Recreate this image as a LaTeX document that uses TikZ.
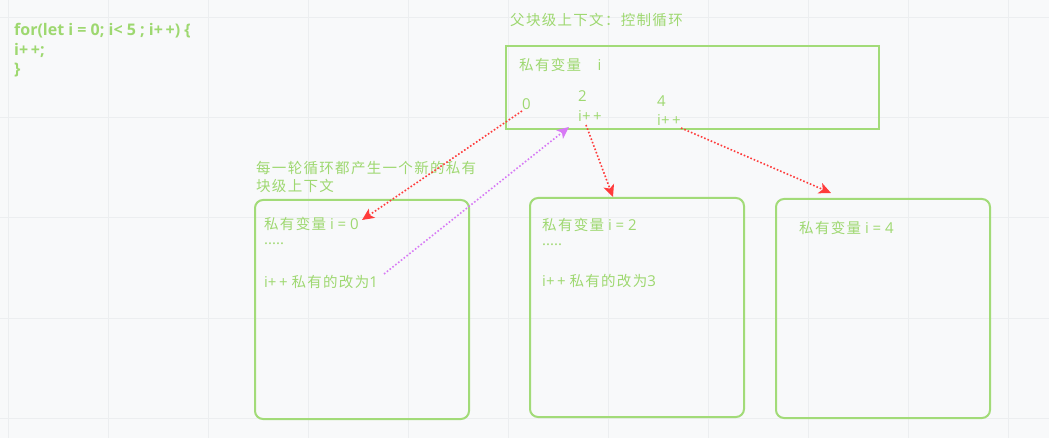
\documentclass[tikz,border=0pt]{standalone}
\usepackage{fontspec}
\setmainfont{Open Sans}
\newfontfamily\cjk[LetterSpace=9,Scale=0.967]{Noto Sans CJK SC}
\usetikzlibrary{arrows.meta}
\definecolor{bg}{HTML}{F8F9FA}
\definecolor{gridc}{HTML}{ECEEF0}
\definecolor{gtxt}{HTML}{9ED870}
\definecolor{gbox}{HTML}{A2DB78}
\definecolor{redc}{HTML}{FF3B3B}
\definecolor{purc}{HTML}{D77AF5}
\tikzset{
  txt/.style={anchor=west, inner sep=0pt, text=gtxt, font=\fontsize{15}{17}\selectfont},
  codetxt/.style={anchor=west, inner sep=0pt, text=gtxt, font=\fontsize{16}{18}\selectfont\bfseries},
  ctxbox/.style={draw=gbox, line width=2pt},
  roundbox/.style={draw=gbox, line width=2pt, rounded corners=8pt},
  redarr/.style={draw=redc, line width=1.6pt, dash pattern=on 1.6pt off 2pt, -{Stealth[length=12pt,width=11pt,inset=3pt]}},
  purarr/.style={draw=purc, line width=1.6pt, dash pattern=on 1.6pt off 2pt, -{Stealth[length=12pt,width=11pt,inset=3pt]}},
}
\begin{document}
\begin{tikzpicture}[x=1pt,y=-1pt]
\fill[bg] (0,0) rectangle (1049,438);
\useasboundingbox (0,0) rectangle (1049,438);
\foreach \gx in {8,108,...,1008} \draw[gridc, line width=1pt] (\gx,0) -- (\gx,438);
\foreach \gy in {18,118,...,418} \draw[gridc, line width=1pt] (0,\gy) -- (1049,\gy);

% code
\node[codetxt] (c1) at (14,31) {for(let i = 0; i< 5 ; i+\,+) \{};
\node[codetxt] (c2) at (14,50) {i+\,+;};
\node[codetxt] (c3) at (14,70) {\}};

% parent context
\node[txt] (ptitle) at (510,20) {\cjk 父块级上下文：控制循环};
\node[ctxbox, minimum width=373pt, minimum height=83pt, anchor=north west, inner sep=0pt] (parent) at (505,45) {};
\node[txt] (pvar) at (519,65) {{\cjk 私有变量}\hspace{1.1em}i};
\node[txt] (zero) at (522,104) {0};
\node[txt] (two) at (578,96) {2};
\node[txt] (ipa) at (578,116) {i+\,+};
\node[txt] (four) at (657,101) {4};
\node[txt] (ipb) at (657,120) {i+\,+};

% label
\node[txt] (lab1) at (256,168) {\cjk 每一轮循环都产生一个新的私有};
\node[txt] (lab2) at (256,186) {\cjk 块级上下文};

% boxes
\node[roundbox, minimum width=214pt, minimum height=219pt, anchor=north west, inner sep=0pt] (b1) at (254,199) {};
\node[roundbox, minimum width=214pt, minimum height=219pt, anchor=north west, inner sep=0pt] (b2) at (529,197) {};
\node[roundbox, minimum width=214pt, minimum height=219pt, anchor=north west, inner sep=0pt] (b3) at (775,198) {};

\node[txt] (b1a) at (264,224) {{\cjk 私有变量} i = 0};
\node[txt] (b1b) at (264,244) {.....};
\node[txt] (b1c) at (264,282) {i+\,+ {\cjk 私有的改为}1};

\node[txt] (b2a) at (542,225) {{\cjk 私有变量} i = 2};
\node[txt] (b2b) at (542,245) {.....};
\node[txt] (b2c) at (542,281) {i+\,+ {\cjk 私有的改为}3};

\node[txt] (b3a) at (799,228) {{\cjk 私有变量} i = 4};

% arrow endpoints
\coordinate (s0) at (522,111);
\coordinate (e0) at (362,220);
\coordinate (sp) at (384,274);
\coordinate (ep) at (569,127);
\coordinate (s2) at (586,125);
\coordinate (e2) at (613,197);
\coordinate (s4) at (681,128);
\coordinate (e4) at (831,193);

\draw[redarr] (s0) -- (e0);
\draw[purarr] (sp) -- (ep);
\draw[redarr] (s2) -- (e2);
\draw[redarr] (s4) -- (e4);
\end{tikzpicture}
\end{document}
